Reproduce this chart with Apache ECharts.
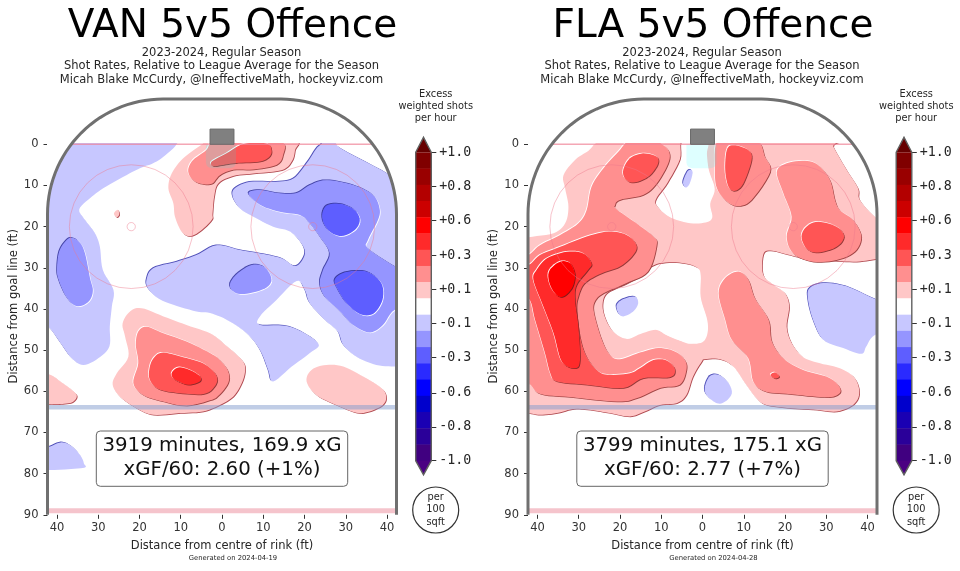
<!DOCTYPE html>
<html>
<head>
<meta charset="utf-8">
<style>html,body{margin:0;padding:0;background:#fff}#chart{width:960px;height:571px}</style>
<script src="https://cdn.jsdelivr.net/npm/echarts@6/dist/echarts.min.js"></script>
</head>
<body>
<div id="chart"></div>
<script>
// all contour outlines are [feet from centre, feet from goal line]
const xTicks = [-40, -30, -20, -10, 0, 10, 20, 30, 40];
const yTicks = [0, 10, 20, 30, 40, 50, 60, 70, 80, 90];
const colorbarTicks = [1, 0.78, 0.56, 0.33, 0.11, -0.11, -0.33, -0.56, -0.78, -1];
const colorbarEdges = [1, 0.895, 0.789, 0.684, 0.579, 0.474, 0.368, 0.263, 0.158, 0.053,
  -0.053, -0.158, -0.263, -0.368, -0.474, -0.579, -0.684, -0.789, -0.895, -1];
const colorbarColors = ['#800000', '#990000', '#b30000', '#cc0000', '#ff0000', '#ff2a2a', '#ff5555', '#ff8f8f', '#ffc7c7',
  '#ffffff', '#c7c7ff', '#9595ff', '#5e5eff', '#2a2aff', '#0000ff', '#0000cc', '#1a00b3', '#2a0099', '#400080'];

const vanBlue1 = [
  [[-11, -0.1], [-14.2, 3], [-16.7, 4.6], [-19.9, 5.8], [-23.9, 7.9], [-28.8, 10.7], [-32, 13.1], [-34.6, 15.8], [-33.2, 18.4], [-30.8, 21.6], [-29.6, 24.9], [-28.9, 30.5], [-26.3, 35.4], [-26.7, 39.4], [-27.2, 44.3], [-27.3, 49.1], [-30, 52], [-33.6, 53.6], [-36.4, 52], [-38.8, 48.7], [-42.1, 44.3], [-47, 41], [-47, -3], [-12, -3]],
  [[24.1, -0.1], [22.9, 1], [20.5, 4.6], [17.3, 8.3], [13.2, 9.1], [6.8, 9.1], [3.1, 10.7], [2.6, 12.7], [4.4, 15.6], [7.6, 17.6], [12.4, 20], [16.5, 21.2], [19.3, 24.1], [20.1, 26.5], [18.9, 28.9], [17.3, 29.5], [14.4, 27.7], [9.2, 26.5], [4.4, 25.7], [-1.3, 24.5], [-6.2, 26.9], [-11, 28.5], [-16.7, 30.1], [-18.3, 32.9], [-17.9, 35], [-15.5, 37.4], [-11.8, 39], [-6.2, 40.6], [-2.9, 41], [1.1, 42.6], [6, 45.9], [9.2, 49.9], [11.2, 54.8], [12.4, 57.6], [16.9, 54], [21.3, 50.7], [23.3, 48.3], [16.5, 44.3], [9.2, 43.9], [9.2, 41.8], [13.2, 37.8], [18.1, 33.2], [20.1, 35.4], [21.3, 38.6], [24.9, 42.6], [28.1, 45.5], [29.4, 48.7], [32.6, 51.6], [37.4, 53.6], [41.9, 54], [47, 54.5], [47, 12], [42.3, 9.5], [40.2, 7.2], [29.4, 1.4], [27.7, -0.1], [27.3, -1], [24.4, -1]],
  [[-47, 74.5], [-42.3, 73.6], [-38.9, 72.4], [-36.4, 73.4], [-34.4, 75.5], [-33.5, 77.5], [-34.2, 78.7], [-47, 78.8]]
];
const vanBlue2 = [
  [[-36.7, 22.7], [-38.4, 24.1], [-39.6, 26.5], [-40, 30.5], [-39.6, 32.9], [-38, 36.6], [-36, 39], [-34, 39.2], [-32, 37.8], [-31.3, 35.4], [-32, 32.5], [-33.2, 26.5], [-34.6, 23.7]],
  [[6.4, 11.9], [9.2, 11.1], [14, 11.9], [18.1, 11.8], [21.3, 9.9], [25.3, 8.7], [31.8, 9.9], [36.6, 12.3], [38.2, 15.6], [37.8, 18.4], [35.4, 23.2], [35.4, 25.3], [41.9, 29.7], [48, 33], [48, 39], [41.9, 40.2], [39, 43.9], [35.8, 45.7], [31.8, 43.9], [28.6, 40.6], [24.9, 37], [23.7, 33.7], [24.5, 30.5], [26.1, 26.5], [23.7, 22.4], [21.3, 19.2], [18.9, 17.2], [14, 16.4], [9.2, 14.7]],
  [[7.2, 29.3], [10.4, 29.9], [12, 32.9], [10.4, 35], [6, 36.3], [3.1, 36], [1.9, 34.1], [3.6, 31.5]]
];
const vanBlue3 = [
  [[24.4, 16.4], [25.7, 14.7], [29, 14.5], [32.2, 16], [33.4, 18.4], [32.2, 20.8], [29, 22.3], [26.1, 21.2], [24.5, 18.8]],
  [[27.3, 32.9], [29.8, 31.1], [35, 30.9], [38.6, 33.7], [38.9, 37.8], [36.6, 41.2], [33.4, 41.2], [30.2, 38.6], [28.1, 35.4]]
];
const vanRed1 = [
  [[-26.2, 16.8], [-25.3, 15.9], [-24.9, 17], [-25.5, 17.7]],
  [[-4.6, -0.2], [-9.4, 3.4], [-12.2, 7.1], [-13, 10.7], [-11.8, 14.3], [-11.4, 17.6], [-9.8, 21.2], [-7.8, 22.3], [-5.4, 21.2], [-2.5, 18.4], [-2.3, 16.8], [-1.9, 12.7], [-0.9, 9.5], [2.7, 7.7], [7.6, 7.1], [14.4, 6.3], [16.9, 4.2], [17.7, 1.4], [17.7, -1], [5, -1.5], [-3, -1.5]],
  [[-19.5, 39.8], [-14.2, 41.8], [-8.6, 43.9], [-2.9, 45.9], [0.3, 48.3], [4.8, 52.4], [5.6, 54.8], [4.8, 58], [2.7, 61.3], [-0.5, 63.3], [-4.6, 64.9], [-10.2, 65.3], [-16.7, 65.7], [-20.7, 64.1], [-24.7, 61.3], [-26.5, 58.4], [-25.5, 55.6], [-22.7, 51.6], [-23.5, 46.7], [-24.1, 43.5], [-22.3, 40.6]],
  [[-42.1, 55.8], [-39.2, 57.6], [-36, 60], [-35.2, 61.3], [-36.4, 62.7], [-39.2, 63.1], [-42.1, 63.1], [-47, 63], [-47, 55]],
  [[20.5, 57.6], [21.7, 54.8], [25.3, 53.6], [29.4, 54], [34.2, 56.4], [38.6, 59.2], [39.8, 61.3], [39, 63.3], [35.8, 64.9], [32.6, 65.2], [27.7, 63.3], [22.9, 60.9]]
];
const vanRed2 = [
  [[-3.8, 1.4], [-7, 3.8], [-8.2, 6.2], [-7.4, 8.3], [-5.4, 9.5], [-2.5, 9.6], [-0.5, 7.5], [2.7, 6.2], [7.6, 6.1], [13.2, 5], [14.8, 2.6], [14.4, -0.6], [5, -1], [-2, -1]],
  [[-18.3, 44.3], [-14.2, 45.9], [-8.6, 47.9], [-2.9, 50.7], [-0.5, 52.4], [1.5, 55.2], [1.5, 58], [-0.9, 61.1], [-2.9, 62.2], [-8.6, 63.5], [-14.2, 62.5], [-19.1, 60.9], [-21.5, 58], [-20.3, 53.2], [-20.9, 48.7], [-20.3, 45.5]]
];
const vanRed3 = [
  [[-2.5, 4.2], [1.1, 2.2], [5.2, -0.1], [10.8, -0.2], [12, 1.4], [11.5, 3], [9.2, 4.2], [3.9, 4.5], [0.3, 5], [-2.1, 5.3]],
  [[-14.2, 50.6], [-16.3, 51.6], [-17.5, 54], [-17.5, 57.2], [-15, 59.6], [-8.6, 60.6], [-3.8, 60.5], [-1.3, 58], [-1.7, 55.6], [-4.6, 53.2], [-9.4, 51.7]]
];
const vanRed4 = [
  [[-10.6, 54.2], [-12.2, 55.6], [-11.4, 57.2], [-8.2, 58.4], [-5.4, 57.6], [-5.4, 56.3], [-7.8, 54.8]]
];

const flaRed1 = [
  [[-24, -1], [-27.7, 1.6], [-30.9, 3.8], [-33.7, 7.5], [-33.3, 10.7], [-32.5, 15.2], [-33.3, 19.2], [-36.1, 21.6], [-42.2, 22.6], [-47, 24], [-47, 65], [-42.2, 65.3], [-39.4, 65.7], [-35.3, 65.3], [-31.3, 64.3], [-27.3, 64.5], [-22.4, 65.3], [-17.6, 66.1], [-14, 64.9], [-10.3, 63.3], [-6.3, 62.9], [-3.9, 60.9], [-2.3, 56.4], [-0.2, 52.8], [0.6, 52.2], [4.3, 52.2], [7.5, 54], [10.3, 58], [13.1, 61.7], [15.5, 63.3], [21.2, 64.1], [27.6, 64.5], [32.5, 64.9], [36.5, 63.3], [38, 60.5], [36.9, 56.8], [33.3, 54.4], [28.5, 53.2], [24.4, 51.7], [21.6, 48.3], [20.4, 44.3], [21, 39.4], [20, 36.2], [17.2, 34.1], [14.7, 31.7], [14.7, 26.9], [16.4, 25.8], [21.2, 26.9], [26, 28.1], [31.7, 28.3], [37.3, 28.5], [41.8, 27.9], [47, 27], [47, 21], [41.8, 17.6], [38.1, 13.5], [37.7, 10.7], [34.9, 6.2], [31.7, 0.6], [31.3, -1], [5, -1.5], [-12, -1.5]]
];
const flaHoles = [
  [[-4.7, -0.9], [-5.3, 3.8], [-8.3, 9.5], [-11.1, 13.5], [-10.7, 15.3], [-7.9, 17.6], [-3.1, 19], [0.6, 18.8], [2.2, 17.6], [1.7, 14.3], [2.8, 10.7], [1.4, 6.2], [0.9, 2.2], [0.9, -0.9]],
  [[-13.2, 30.5], [-10.3, 29.1], [-5.5, 28.9], [-1.5, 29.9], [-0.6, 31.7], [-0.6, 37], [1, 42.6], [1, 45.9], [-0.2, 47.9], [-3, 48.3], [-4.7, 47.9], [-8.7, 46.3], [-11.5, 44.9], [-15.2, 45.9], [-18.4, 47.1], [-21.6, 45.5], [-23.6, 41.8], [-24, 38.6], [-22.8, 36.2], [-18.4, 34.1], [-13.9, 31.7]]
];
const flaBlue1 = [
  [[-20.8, 39], [-19.2, 37.6], [-16.4, 37], [-15.6, 38.6], [-16.8, 40.6], [-19.2, 41.8], [-20.4, 41]],
  [[-4.7, 9.1], [-3.5, 6.4], [-2.4, 6.7], [-3.1, 9.5], [-4.1, 10.5]],
  [[0.6, 58.8], [1.8, 56.3], [3.9, 56], [6.3, 58], [7.1, 60.5], [5.5, 62.5], [3.5, 62.9], [1, 60.9]],
  [[25.9, 35], [29.3, 33.7], [34.9, 34.5], [41.8, 37.6], [48, 40], [48, 44], [41.8, 46.3], [39.7, 49.1], [38.5, 50.9], [34.1, 49.5], [29.3, 47.5], [26.8, 42.6], [25.6, 37.8]]
];
const flaRed2 = [
  [[-17.6, -0.9], [-20.4, 1.8], [-24, 5.8], [-26.9, 10.3], [-28.1, 16], [-30.1, 19.2], [-34.5, 22], [-39.4, 24.5], [-42.2, 26.9], [-47, 29], [-47, 56], [-42.2, 58], [-39.4, 60.6], [-32.1, 61.4], [-20.8, 62.5], [-16, 61.7], [-10.3, 59.2], [-5.5, 58.4], [-3.9, 54.8], [-4.3, 52.4], [-6.7, 50.3], [-10.7, 49.5], [-15.2, 50.6], [-20, 52.2], [-22.4, 51.2], [-24.4, 47.5], [-26.3, 41], [-26.1, 38.2], [-24, 36.2], [-18.4, 33.7], [-13.2, 30.9], [-11.1, 24.5], [-11.9, 22.4], [-16, 19.2], [-20.8, 15.8], [-21.2, 14.8], [-20, 13.5], [-14.4, 12.3], [-11.1, 9.5], [-8.3, 4.6], [-8.1, 1.8], [-9.9, -0.1], [-11.9, -0.9]],
  [[3, 6.2], [3.5, 10.7], [5.9, 13.9], [8.7, 15], [11.9, 13.5], [16.4, 6.7], [15.1, 3], [13.5, -0.6], [8, -1], [3.5, -0.6]],
  [[18, 6.7], [20.4, 4.6], [24.8, 4], [28, 5], [30.9, 8.7], [32.1, 13.5], [33.3, 16], [36.5, 18.4], [38.5, 22.4], [36.9, 26.1], [32.5, 28.1], [26.8, 28.5], [22, 26.5], [20.4, 22.4], [21.6, 17.6], [19.6, 11.9]],
  [[3.9, 36.2], [5.5, 32.5], [8.7, 30.9], [11.1, 32.9], [12.7, 37.4], [16, 42.6], [16.8, 47.9], [19.6, 52], [24.4, 54.8], [30.9, 56.8], [33.5, 59.7], [31.7, 61.3], [27.6, 61.3], [20.4, 60.6], [15.1, 60], [12.3, 57.6], [11.1, 52], [7.1, 47.5], [5.5, 42.6]]
];
const flaRed3 = [
  [[-42.2, 29.3], [-39.4, 26.9], [-34.5, 24.9], [-28.1, 22.4], [-22.8, 21.2], [-18.4, 22], [-16, 24.5], [-16.8, 26.9], [-20, 29.7], [-24.4, 31.3], [-28.5, 33.7], [-30.1, 37], [-30.5, 40.2], [-29.7, 46.7], [-28.1, 51.6], [-25.2, 55.2], [-22.4, 56], [-17.6, 55.6], [-15.2, 54.4], [-11.9, 52.4], [-8.7, 52.5], [-6.7, 54.6], [-7.9, 56.6], [-14.4, 56.8], [-19.2, 59.2], [-28.1, 58.4], [-35.3, 57.6], [-36.9, 55.6], [-38.2, 50.7], [-40.6, 42.6], [-42.2, 37.4], [-47, 36], [-47, 30]],
  [[-19.2, 6.2], [-17.6, 3.4], [-14.4, 2.2], [-11.1, 3], [-10.9, 5], [-13.2, 7.9], [-16.8, 9.3], [-18.8, 8.3]],
  [[7.5, 0.2], [5.9, 1.4], [5.5, 6.2], [6.3, 10.3], [7.9, 11.3], [9.9, 9.5], [11.9, 3.8], [11.1, 1.4]],
  [[24, 22.4], [25.2, 20], [28, 18.8], [32.5, 20], [34.3, 22.4], [32.5, 24.9], [28, 26.3], [25.2, 25.3]],
  [[16.5, 56], [17.6, 55.4], [18.6, 56.4], [17.6, 56.9]]
];
const flaRed4 = [
  [[-40.2, 30.5], [-37.7, 27.7], [-32.9, 26.1], [-28.9, 26.5], [-26.9, 28.9], [-27.7, 30.5], [-30.5, 34.1], [-30.9, 37.8], [-30.1, 44.3], [-29.7, 52.4], [-30.9, 54.4], [-34.1, 52.8], [-36.1, 45.9], [-38.9, 38.6], [-41, 32.9]]
];
const flaRed5 = [
  [[-37, 30.5], [-34.5, 28.5], [-32.1, 28.9], [-30.9, 31.7], [-31.7, 35], [-34.1, 37.1], [-36.1, 35.8], [-37.3, 32.9]]
];

const fillColors = { '0': '#ffffff', '1': '#ffc7c7', '2': '#ff8f8f', '3': '#ff5555', '4': '#ff2a2a', '5': '#ff0000', '-1': '#c7c7ff', '-2': '#9595ff', '-3': '#5e5eff' };
const edgeColors = { '0': '#b04a50', '1': '#b04a50', '2': '#a04444', '3': '#943838', '4': '#8a2a2a', '5': '#801a1a', '-1': '#5050b8', '-2': '#4545a8', '-3': '#3a3a9c' };

function layers(list) {
  // [level, polygons, direction of the dark edge]
  return list.flatMap(([level, polys, dir]) => polys.map((points) => ({ level, points, dir })));
}

const vanShapes = layers([[1, vanRed1, 1], [-1, vanBlue1, -1], [-2, vanBlue2, -1], [-3, vanBlue3, -1], [2, vanRed2, 1], [3, vanRed3, 1], [4, vanRed4, 1]]);
const flaShapes = layers([[1, flaRed1, 1], [0, flaHoles, -1], [-1, flaBlue1, -1], [2, flaRed2, 1], [3, flaRed3, 1], [4, flaRed4, 1], [5, flaRed5, 1]]);

// closed catmull-rom through the read points, the zrender smooth option leaves corners
function roundOutline(pts) {
  const out = [];
  const n = pts.length;
  for (let i = 0; i < n; i++) {
    const p0 = pts[(i + n - 1) % n], p1 = pts[i], p2 = pts[(i + 1) % n], p3 = pts[(i + 2) % n];
    for (let k = 0; k < 6; k++) {
      const t = k / 6, t2 = t * t, t3 = t2 * t;
      out.push([0, 1].map((d) => 0.5 * (2 * p1[d] + (p2[d] - p0[d]) * t + (2 * p0[d] - 5 * p1[d] + 4 * p2[d] - p3[d]) * t2 + (3 * p1[d] - p0[d] - 3 * p2[d] + p3[d]) * t3)));
    }
  }
  return out;
}

function contourSeries(grid, shapes) {
  return {
    type: "custom",
    xAxisIndex: grid,
    yAxisIndex: grid,
    z: 2,
    clip: true,
    silent: true,
    data: shapes.map((s, i) => i),
    renderItem(params, api) {
      const s = shapes[params.dataIndex];
      const points = roundOutline(s.points.map((p) => api.coord(p)));
      const piece = (off, fill) => ({ type: "polygon", x: off, y: off, shape: { points }, style: { fill } });
      return {
        type: "group",
        children: [
          piece(s.dir * 0.75, edgeColors[s.level]),
          piece(-s.dir * 0.7, "#ffffff"),
          piece(0, fillColors[s.level]),
        ],
      };
    },
  };
}

// rink outline, corners are 28 ft circles
const cornerR = 28;
const cornerX = 14.3;
const cornerY = 17;
function cornerArc(side, from, to) {
  const pts = [];
  for (let i = 0; i <= 30; i++) {
    const a = ((from + ((to - from) * i) / 30) * Math.PI) / 180;
    pts.push([side * (cornerX + cornerR * Math.cos(a)), cornerY - cornerR * Math.sin(a)]);
  }
  return pts;
}
const goalAngle = (Math.asin(cornerY / cornerR) * 180) / Math.PI;

function rinkMaskSeries(grid) {
  const pts = [[-50, -20], [50, -20], [50, cornerY], ...cornerArc(1, 0, goalAngle), [36.5, -0.3], [-36.5, -0.3], ...cornerArc(-1, goalAngle, 0), [-50, cornerY]];
  return {
    type: "custom", xAxisIndex: grid, yAxisIndex: grid, z: 3, clip: true, silent: true, data: [0],
    renderItem(params, api) {
      return { type: "polygon", shape: { points: pts.map((p) => api.coord(p)) }, style: { fill: "#ffffff" } };
    },
  };
}

function rinkSeries(grid) {
  const outline = [[-42.3, 90], ...cornerArc(-1, 0, 90), ...cornerArc(1, 90, 0), [42.3, 90]];
  return {
    type: "custom", xAxisIndex: grid, yAxisIndex: grid, z: 4, clip: false, silent: true, data: [0],
    renderItem(params, api) {
      const c = (x, y) => api.coord([x, y]);
      const ftPx = api.size([1, 0])[0];
      const line = (x1, y1, x2, y2, stroke, lineWidth) => {
        const a = c(x1, y1), b = c(x2, y2);
        return { type: "line", shape: { x1: a[0], y1: a[1], x2: b[0], y2: b[1] }, style: { stroke, lineWidth } };
      };
      const ring = (x, y, r) => {
        const a = c(x, y);
        return { type: "circle", shape: { cx: a[0], cy: a[1], r: r * ftPx }, style: { fill: "none", stroke: "rgba(238,120,140,0.45)", lineWidth: 1 } };
      };
      const crease0 = c(-3.9, 0), crease1 = c(3.4, 5.8);
      const goal0 = c(-2.9, -3.7), goal1 = c(2.9, 0);
      return {
        type: "group",
        children: [
          { type: "rect", shape: { x: crease0[0], y: crease0[1], width: crease1[0] - crease0[0], height: crease1[1] - crease0[1], r: [0, 0, 6, 6] }, style: { fill: "rgba(0,255,255,0.13)" } },
          ring(-22, 20, 15), ring(22, 20, 15), ring(-22, 20, 1), ring(22, 20, 1),
          line(-36.5, 0, 36.5, 0, "rgba(240,130,150,0.7)", 1.5),
          line(-42.3, 63.9, 42.3, 63.9, "rgba(130,155,205,0.5)", 4.5),
          line(-42.3, 89, 42.3, 89, "#f5c4cc", 5),
          { type: "rect", shape: { x: goal0[0], y: goal0[1], width: goal1[0] - goal0[0], height: goal1[1] - goal0[1] }, style: { fill: "#808080", stroke: "#6a6a6a", lineWidth: 1 } },
          { type: "polyline", shape: { points: outline.map((p) => api.coord(p)) }, style: { fill: "none", stroke: "#707070", lineWidth: 3 } },
        ],
      };
    },
  };
}

function colorbarSeries(grid) {
  return {
    type: "custom", xAxisIndex: grid, yAxisIndex: grid, z: 5, clip: false, silent: true,
    data: colorbarColors.map((color, i) => [i]),
    renderItem(params, api) {
      const i = params.dataIndex;
      const a = api.coord([0, colorbarEdges[i]]);
      const b = api.coord([1, colorbarEdges[i + 1]]);
      const children = [{ type: "rect", shape: { x: a[0], y: a[1], width: b[0] - a[0], height: b[1] - a[1] + 0.4 }, style: { fill: colorbarColors[i] } }];
      if (i === colorbarColors.length - 1) {
        const tip = (y, edge, fill) => ({
          type: "polygon",
          shape: { points: [api.coord([0, edge]), api.coord([0.5, y]), api.coord([1, edge])] },
          style: { fill },
        });
        const outline = [[0, 1], [0.5, 1.097], [1, 1], [1, -1], [0.5, -1.092], [0, -1]];
        children.push(tip(1.097, 1, "#660000"), tip(-1.092, -1, "#4b0082"));
        children.push({ type: "polygon", shape: { points: outline.map((p) => api.coord(p)) }, style: { fill: "none", stroke: "#606060", lineWidth: 1.4 } });
      }
      return { type: "group", children };
    },
  };
}

function text(str, x, y, size, fill, family) {
  return {
    type: "text", z: 20, silent: true, x, y,
    style: { text: str, textAlign: "center", textVerticalAlign: "middle", font: `${size}px ${family || "'DejaVu Sans'"}`, fill: fill || "#262626" },
  };
}

function panelGraphics(dx, team, info, generated) {
  return [
    text(`${team} 5v5 Offence`, 232.5 + dx, 26.5, 39, "#000000"),
    text("2023-2024, Regular Season", 221.5 + dx, 53, 11.5),
    text("Shot Rates, Relative to League Average for the Season", 221.5 + dx, 66.3, 11.5),
    text("Micah Blake McCurdy, @IneffectiveMath, hockeyviz.com", 221.5 + dx, 80, 11.5),
    text("Excess", 435.7 + dx, 94, 9.8),
    text("weighted shots", 435.7 + dx, 106.3, 9.8),
    text("per hour", 435.7 + dx, 118.5, 9.8),
    { type: "rect", z: 19, silent: true, shape: { x: 96.3 + dx, y: 431, width: 251.4, height: 55.3, r: 4 }, style: { fill: "#ffffff", stroke: "#666666", lineWidth: 1 } },
    text(info[0], 222 + dx, 445.5, 19.8, "#111111"),
    text(info[1], 222 + dx, 469.5, 19.8, "#111111"),
    { type: "circle", z: 19, silent: true, shape: { cx: 435.7 + dx, cy: 510, r: 23 }, style: { fill: "#ffffff", stroke: "#333333", lineWidth: 1.2 } },
    text("per", 435.7 + dx, 497.5, 9.8),
    text("100", 435.7 + dx, 509.8, 9.8),
    text("sqft", 435.7 + dx, 522, 9.8),
    text(generated, 233 + dx, 558.5, 6.8),
  ];
}

const tickStyle = { color: "#333333", fontFamily: "DejaVu Sans", fontSize: 11.5 };
function rinkAxes(left) {
  return {
    grid: { left, top: 97.8, width: 349, height: 417 },
    x: {
      type: "value", min: -42.3, max: 42.3, position: "bottom",
      name: "Distance from centre of rink (ft)", nameLocation: "middle", nameGap: 25,
      nameTextStyle: { color: "#262626", fontFamily: "DejaVu Sans", fontSize: 11.5 },
      axisLine: { show: false, onZero: false }, splitLine: { show: false },
      axisTick: { show: true, length: 4, customValues: xTicks, lineStyle: { color: "#333333" } },
      axisLabel: { ...tickStyle, margin: 7, customValues: xTicks, formatter: (v) => String(Math.abs(v)) },
    },
    y: {
      type: "value", min: -11.3, max: 90, inverse: true, position: "left",
      name: "Distance from goal line (ft)", nameLocation: "middle", nameGap: 27,
      nameTextStyle: { color: "#262626", fontFamily: "DejaVu Sans", fontSize: 11.5 },
      axisLine: { show: false, onZero: false }, splitLine: { show: false },
      axisTick: { show: true, length: 4, customValues: yTicks, lineStyle: { color: "#333333" } },
      axisLabel: { ...tickStyle, margin: 9, customValues: yTicks },
    },
  };
}
function colorbarAxes(left) {
  return {
    grid: { left, top: 152.3, width: 15.6, height: 308.4 },
    x: { type: "value", min: 0, max: 1, show: false },
    y: {
      type: "value", min: -1, max: 1, position: "right",
      axisLine: { show: false, onZero: false }, splitLine: { show: false },
      axisTick: { show: true, length: 5, customValues: colorbarTicks, lineStyle: { color: "#333333" } },
      axisLabel: {
        color: "#262626", fontFamily: "DejaVu Sans Mono", fontSize: 13.3, margin: 8,
        customValues: colorbarTicks, formatter: (v) => (v > 0 ? "+" : "") + v.toFixed(1),
      },
    },
  };
}

const panels = [rinkAxes(47.5), rinkAxes(528), colorbarAxes(415.7), colorbarAxes(896.2)];

const chart = echarts.init(document.getElementById("chart"), null, { renderer: "canvas", width: 960, height: 571 });
chart.setOption({
  animation: false,
  backgroundColor: "#ffffff",
  grid: panels.map((p) => p.grid),
  xAxis: panels.map((p, i) => ({ ...p.x, gridIndex: i })),
  yAxis: panels.map((p, i) => ({ ...p.y, gridIndex: i })),
  series: [
    contourSeries(0, vanShapes), rinkMaskSeries(0), rinkSeries(0),
    contourSeries(1, flaShapes), rinkMaskSeries(1), rinkSeries(1),
    colorbarSeries(2), colorbarSeries(3),
  ],
  graphic: [
    ...panelGraphics(0, "VAN", ["3919 minutes, 169.9 xG", "xGF/60: 2.60 (+1%)"], "Generated on 2024-04-19"),
    ...panelGraphics(480.5, "FLA", ["3799 minutes, 175.1 xG", "xGF/60: 2.77 (+7%)"], "Generated on 2024-04-28"),
  ],
});
</script>
</body>
</html>
